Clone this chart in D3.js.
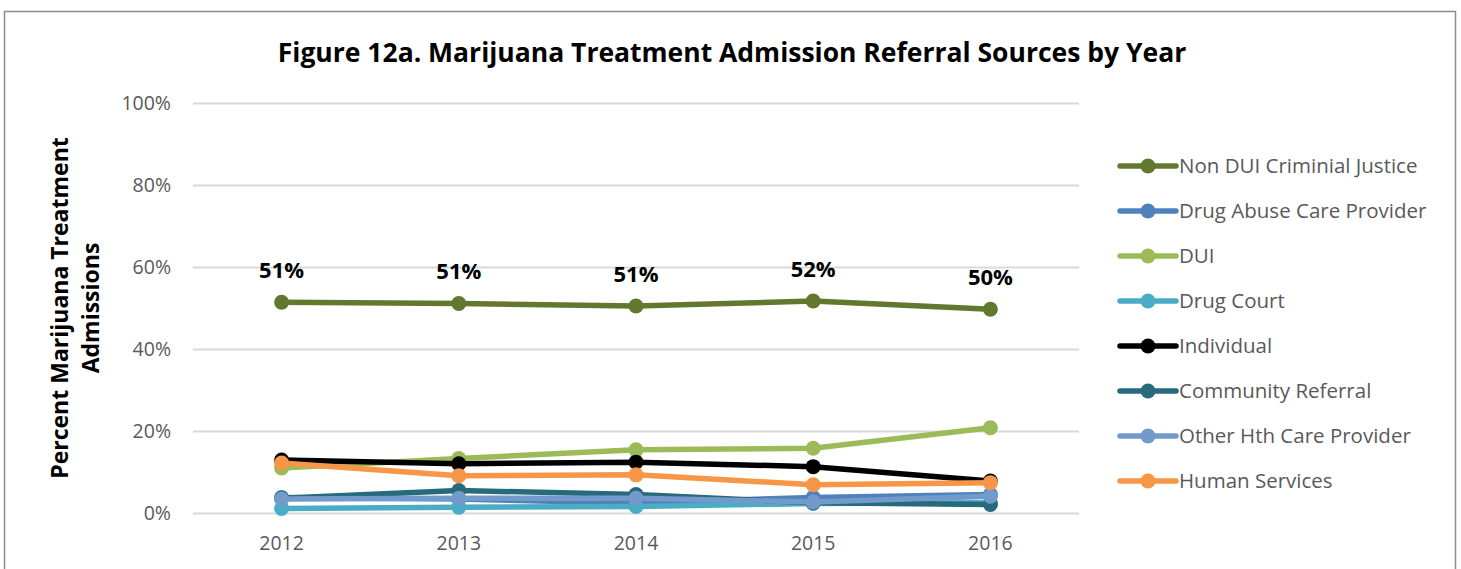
<!DOCTYPE html>
<html>
<head>
<meta charset="utf-8">
<script src="https://cdn.jsdelivr.net/npm/d3@7"></script>
<style>
  body { margin: 0; background: #fff; }
  text { font-family: "Open Sans", "Noto Sans", sans-serif; }
</style>
</head>
<body>
<div id="chart"></div>
<script>
// Chart data
const years = ["2012", "2013", "2014", "2015", "2016"];
const seriesNames = ["Non DUI Criminial Justice", "Drug Abuse Care Provider", "DUI", "Drug Court",
    "Individual", "Community Referral", "Other Hth Care Provider", "Human Services"];
const seriesColors = ["#62782f", "#4f81bd", "#9bbb59", "#4bacc6", "#000000", "#276a7c", "#729aca", "#f79646"];
const nonDui = [51.4, 51.1, 50.5, 51.7, 49.7];
const drugAbuse = [3.8, 3.4, 2.4, 3.8, 4.5];
const dui = [11.0, 13.3, 15.4, 15.8, 20.8];
const drugCourt = [1.1, 1.4, 1.6, 2.3, 2.5];
const individual = [12.9, 12.0, 12.4, 11.3, 7.8];
const community = [3.6, 5.5, 4.5, 2.5, 2.1];
const otherHth = [3.4, 3.6, 3.6, 2.7, 4.1];
const humanServices = [12.2, 9.1, 9.3, 6.9, 7.4];
const yTicks = [0, 20, 40, 60, 80, 100];

const seriesValues = [nonDui, drugAbuse, dui, drugCourt, individual, community, otherHth, humanServices];
const series = seriesNames.map((name, i) => ({
    name: name,
    color: seriesColors[i],
    values: seriesValues[i].map((v, j) => ({ year: years[j], value: v }))
}));

const W = 1461, H = 569;
const plot = { left: 193, right: 1079, top: 103, bottom: 513 };

const svg = d3.select("#chart")
    .append("svg")
    .attr("width", W)
    .attr("height", H);

// outer frame
svg.append("rect")
    .attr("x", 4.5).attr("y", 11.5)
    .attr("width", 1451).attr("height", 600)
    .attr("fill", "none")
    .attr("stroke", "#8c8c8c")
    .attr("stroke-width", 1.5);

// title
svg.append("text")
    .attr("x", 732).attr("y", 62)
    .attr("text-anchor", "middle")
    .style("font-size", "26.5px")
    .style("font-weight", "bold")
    .style("fill", "#000")
    .text("Figure 12a. Marijuana Treatment Admission Referral Sources by Year");

const x = d3.scaleBand()
    .domain(years)
    .range([plot.left, plot.right]);

const y = d3.scaleLinear()
    .domain([0, 100])
    .range([plot.bottom, plot.top]);

// gridlines + y labels
const yAxis = d3.axisLeft(y)
    .tickValues(yTicks)
    .tickSize(-(plot.right - plot.left))
    .tickPadding(22)
    .tickFormat(d => d + "%");

const gy = svg.append("g")
    .attr("transform", "translate(" + plot.left + ",0)")
    .call(yAxis);
gy.select(".domain").remove();
gy.selectAll(".tick line").attr("stroke", "#d9d9d9").attr("stroke-width", 2);
gy.selectAll(".tick text")
    .style("font-size", "19.5px")
    .style("fill", "#595959");

// x labels
const xAxis = d3.axisBottom(x)
    .tickSize(0)
    .tickPadding(23);
const gx = svg.append("g")
    .attr("transform", "translate(0," + plot.bottom + ")")
    .call(xAxis);
gx.select(".domain").remove();
gx.selectAll(".tick text")
    .style("font-size", "19.5px")
    .style("fill", "#595959");

// y axis title
const yTitle = svg.append("text")
    .attr("transform", "translate(68," + ((plot.top + plot.bottom) / 2) + ") rotate(-90)")
    .attr("text-anchor", "middle")
    .style("font-size", "23px")
    .style("font-weight", "bold")
    .style("fill", "#000");
yTitle.append("tspan").attr("x", 0).attr("dy", 0).text("Percent Marijuana Treatment");
yTitle.append("tspan").attr("x", 0).attr("dy", 31).text("Admissions");

// lines
const line = d3.line()
    .x(d => x(d.year) + x.bandwidth() / 2)
    .y(d => y(d.value));

const groups = svg.selectAll(".series")
    .data(series)
    .enter()
    .append("g")
    .attr("class", "series");

groups.append("path")
    .attr("d", d => line(d.values))
    .attr("fill", "none")
    .attr("stroke", d => d.color)
    .attr("stroke-width", 5.5)
    .attr("stroke-linejoin", "round");

groups.selectAll("circle")
    .data(d => d.values.map(v => ({ ...v, color: d.color })))
    .enter()
    .append("circle")
    .attr("cx", d => x(d.year) + x.bandwidth() / 2)
    .attr("cy", d => y(d.value))
    .attr("r", 7.5)
    .attr("fill", d => d.color);

// data labels on the top series
svg.selectAll(".label")
    .data(series[0].values)
    .enter()
    .append("text")
    .attr("class", "label")
    .attr("x", d => x(d.year) + x.bandwidth() / 2)
    .attr("y", d => y(d.value) - 24)
    .attr("text-anchor", "middle")
    .style("font-size", "22px")
    .style("font-weight", "bold")
    .style("fill", "#000")
    .text(d => Math.round(d.value) + "%");

// legend
const legend = svg.selectAll(".legend")
    .data(series)
    .enter()
    .append("g")
    .attr("class", "legend")
    .attr("transform", (d, i) => "translate(1120," + (166 + i * 45) + ")");

legend.append("line")
    .attr("x1", 0).attr("x2", 56)
    .attr("stroke", d => d.color)
    .attr("stroke-width", 5.5)
    .attr("stroke-linecap", "round");

legend.append("circle")
    .attr("cx", 28)
    .attr("r", 7.5)
    .attr("fill", d => d.color);

legend.append("text")
    .attr("x", 59)
    .attr("dy", "0.35em")
    .style("font-size", "20.5px")
    .style("font-weight", "500")
    .style("fill", "#595959")
    .text(d => d.name);
</script>
</body>
</html>
